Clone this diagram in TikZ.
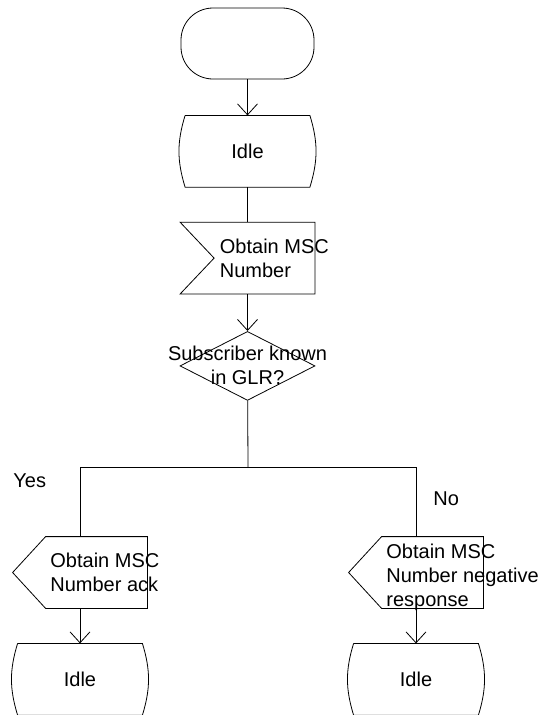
\documentclass[tikz,border=0pt]{standalone}
\usepackage{fontspec}
\setmainfont{Liberation Sans}
\usetikzlibrary{arrows.meta,positioning,shapes.geometric}
\tikzset{term/.style={draw,rounded corners=32pt,minimum width=133pt,minimum height=71pt,inner sep=0pt},sdlstate/.style={minimum width=134pt,minimum height=71pt,inner sep=0pt},sig/.style={sdlstate},decision/.style={draw,diamond,minimum width=135pt,minimum height=69pt,inner sep=0pt},txt/.style={align=left,inner sep=0pt,font=\fontsize{20}{24}\selectfont},arr/.style={-{Straight Barb[length=11pt,width=20pt]}}}
\begin{document}
\begin{tikzpicture}[x=1pt,y=-1pt,line width=0.8pt]
\useasboundingbox (0,0) rectangle (549,715);
\node[term] (start) at (247.5,43.5) {};
\node[sdlstate,below=36pt of start] (idle1) {};
\node[sig,below=35pt of idle1] (obtain) {};
\node[decision,below=37pt of obtain] (known) {};
\coordinate (split) at (248,467);
\node[sig] (ack) at (80,572.5) {};
\node[sig] (nack) at (416,572.5) {};
\node[sdlstate,below=35pt of ack] (idleack) {};
\node[sdlstate,below=35pt of nack] (idlenack) {};
\foreach \n in {idle1,idleack,idlenack} \draw ([xshift=5pt]\n.north west) -- ([xshift=-5pt]\n.north east) to[bend left=17] ([xshift=-5pt]\n.south east) -- ([xshift=5pt]\n.south west) to[bend left=17] ([xshift=5pt]\n.north west);
% input and output signals
\draw (obtain.north west) -- (obtain.north east) -- (obtain.south east) -- (obtain.south west) -- ([xshift=34pt]obtain.west) -- cycle;
\foreach \n in {ack,nack} \draw ([xshift=33pt]\n.north west) -- (\n.north east) -- (\n.south east) -- ([xshift=33pt]\n.south west) -- (\n.west) -- cycle;
% texts
\node[txt] (idle1txt) at (idle1) {Idle};
\node[txt] (idleacktxt) at (idleack) {Idle};
\node[txt] (idlenacktxt) at (idlenack) {Idle};
\node[txt,anchor=west] (obtaintxt) at ([xshift=-28pt]obtain.center) {Obtain MSC\\Number};
\node[txt,align=center] (knowntxt) at ([yshift=1pt]known.center) {Subscriber known\\in GLR?};
\node[txt,anchor=west] (acktxt) at ([xshift=-30pt]ack.center) {Obtain MSC\\Number ack};
\node[txt,anchor=west] (nacktxt) at ([xshift=-30pt,yshift=-5pt]nack.center) {Obtain MSC\\Number negative\\response};
\node[txt,anchor=base west] (yes) at (13,487) {Yes};
\node[txt,anchor=base west] (no) at (433,505) {No};
% connectors
\draw[arr] (start)--(idle1);\draw (idle1)--(obtain);\draw[arr] (obtain)--(known);
\draw (known)--(split);\draw (split)-|(ack.north);\draw (split)-|(nack.north);
\draw[arr] (ack)--(idleack);\draw[arr] (nack)--(idlenack);
\end{tikzpicture}
\end{document}
